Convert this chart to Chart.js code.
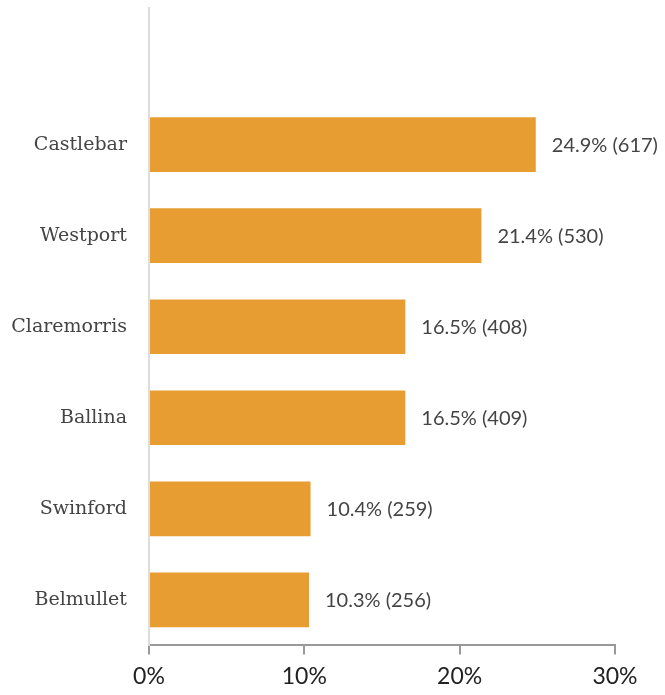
<!DOCTYPE html>
<html>
<head>
<meta charset="utf-8">
<script src="https://cdn.jsdelivr.net/npm/chart.js@4.4.0/dist/chart.umd.min.js"></script>
<style>
  html, body { margin: 0; padding: 0; background: #fff; }
  #wrap { width: 665px; height: 695px; }
</style>
</head>
<body>
<div id="wrap"><canvas id="myChart"></canvas></div>
<script>
// first slot is left empty, like the original
var towns = ["", "Castlebar", "Westport", "Claremorris", "Ballina", "Swinford", "Belmullet"];
var pctValues = [null, 24.9, 21.4, 16.5, 16.5, 10.4, 10.3];
var counts = [null, 617, 530, 408, 409, 259, 256];
var xTicks = [0, 10, 20, 30];

var valueLabels = {
    id: "valueLabels",
    afterDatasetsDraw: function (chart) {
        var ctx = chart.ctx;
        var meta = chart.getDatasetMeta(0);
        ctx.save();
        ctx.font = "20px Lato";
        ctx.fillStyle = "#444";
        ctx.textAlign = "left";
        ctx.textBaseline = "middle";
        meta.data.forEach(function (bar, i) {
            if (pctValues[i] == null) return;
            ctx.fillText(pctValues[i].toFixed(1) + "% (" + counts[i] + ")", bar.x + 16, bar.y + 1);
        });
        ctx.restore();
    }
};

new Chart("myChart", {
    type: "bar",
    data: {
        labels: towns,
        datasets: [{
            data: pctValues,
            backgroundColor: "#E89D33",
            categoryPercentage: 0.6,
            barPercentage: 1
        }]
    },
    options: {
        indexAxis: "y",
        responsive: true,
        maintainAspectRatio: false,
        animation: false,
        layout: { padding: { top: 8, right: 50, bottom: -3, left: 0 } },
        plugins: {
            legend: { display: false },
            tooltip: { enabled: false }
        },
        scales: {
            x: {
                min: 0,
                max: 30,
                afterBuildTicks: function (scale) {
                    scale.ticks = xTicks.map(function (v) { return { value: v }; });
                },
                border: { color: "#999", width: 2 },
                grid: { drawOnChartArea: false, drawTicks: true, tickLength: 9, color: "#999", lineWidth: 2 },
                ticks: {
                    color: "#222",
                    font: { family: "Lato", size: 23 },
                    padding: 8,
                    maxRotation: 0,
                    callback: function (v) { return v + "%"; }
                }
            },
            y: {
                border: { color: "#ddd", width: 2 },
                grid: { display: false },
                ticks: {
                    color: "#444",
                    font: { family: "DejaVu Serif", size: 19 },
                    padding: 14
                },
                afterFit: function (scale) {
                    scale.width = 149;
                    scale.paddingTop = 0;
                    scale.paddingBottom = 0;
                }
            }
        }
    },
    plugins: [valueLabels]
});
</script>
</body>
</html>
